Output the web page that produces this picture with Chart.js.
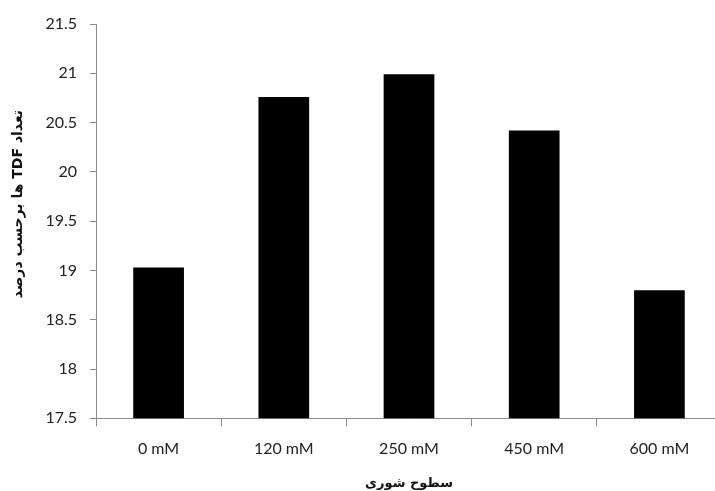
<!DOCTYPE html>
<html>
<head>
<meta charset="utf-8">
<script src="https://cdn.jsdelivr.net/npm/chart.js@4"></script>
<style>
html,body{margin:0;padding:0;background:#fff;overflow:hidden;}
#wrap{width:730px;height:491px;}
</style>
</head>
<body>
<div id="wrap"><canvas id="c" width="730" height="491"></canvas></div>
<script>
const categories = ["0 mM", "120 mM", "250 mM", "450 mM", "600 mM"];
const tdfPercent = [19.03, 20.76, 20.99, 20.42, 18.80];
const yTickValues = [17.5, 18, 18.5, 19, 19.5, 20, 20.5, 21, 21.5];
const xTitle = "سطوح شوری";
const yTitle = "تعداد TDF ها برحسب درصد";

new Chart(document.getElementById('c'), {
  type: 'bar',
  data: {
    labels: categories,
    datasets: [{
      data: tdfPercent,
      backgroundColor: '#000',
      borderWidth: 0,
      barPercentage: 1,
      categoryPercentage: 0.405
    }]
  },
  options: {
    responsive: false,
    animation: false,
    layout: { padding: { top: 24, right: 8, left: 0, bottom: 0 } },
    plugins: { legend: { display: false }, tooltip: { enabled: false } },
    scales: {
      x: {
        grid: { display: true, drawOnChartArea: false, drawTicks: true, tickLength: 8, color: '#8c8c8c', offset: true },
        border: { color: '#8c8c8c', width: 1 },
        ticks: { color: '#222', font: { family: 'Lato', size: 16 }, padding: 13 },
        title: { display: true, text: xTitle, color: '#111', font: { family: 'DejaVu Sans', size: 13, weight: 'bold' }, padding: { top: 0, bottom: 0 } },
        afterFit: s => { s.height = 72.7; }
      },
      y: {
        min: 17.5, max: 21.5,
        afterBuildTicks: s => { s.ticks = yTickValues.map(v => ({ value: v })); },
        grid: { display: true, drawOnChartArea: false, drawTicks: true, tickLength: 6, color: '#8c8c8c' },
        border: { color: '#8c8c8c', width: 1 },
        ticks: { color: '#222', font: { family: 'Lato', size: 16 }, padding: 13, callback: v => String(v) },
        title: { display: true, text: '\u202B' + yTitle + '\u00A0\u00A0\u00A0\u00A0\u00A0\u00A0\u00A0\u202C', color: '#111', font: { family: 'DejaVu Sans', size: 14, weight: 'bold' }, padding: { top: 10, bottom: 0 } },
        afterFit: s => { s.width = 96; }
      }
    }
  }
});
</script>
</body>
</html>
